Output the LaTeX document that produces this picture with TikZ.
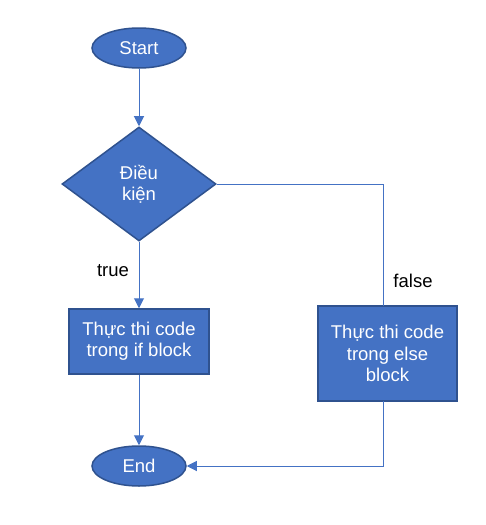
\documentclass[tikz,border=0pt]{standalone}
\usepackage{fontspec}
\setmainfont{Liberation Sans}
\usepackage{tikz}
\usetikzlibrary{shapes.geometric,arrows.meta}
\definecolor{boxfill}{HTML}{4472C4}
\definecolor{boxedge}{HTML}{2F528F}

\begin{document}
\begin{tikzpicture}[x=1pt,y=-1pt,
        font=\fontsize{18.5}{21.3}\selectfont,
        shapebox/.style={draw=boxedge,line width=1.5pt,fill=boxfill,text=white,align=center,inner sep=0pt},
        terminal/.style={shapebox,ellipse,minimum width=94pt,minimum height=40pt},
        process/.style={shapebox,rectangle},
        decision/.style={shapebox,diamond,minimum width=154pt,minimum height=114pt},
        link/.style={draw=boxfill,line width=1pt},
        arrowlink/.style={link,-{Triangle[width=10pt,length=10pt]}}]
        \useasboundingbox (0,0) rectangle (486,525);
        % Start and End
        \node[terminal] (start) at (139,48) {Start};
        \node[terminal] (end) at (139,466) {End};
        % condition
        \node[decision] (cond) at (139,184) {Điều\\kiện};
        % if and else blocks
        \node[process,minimum width=140pt,minimum height=65pt] (ifblock) at (139,341.5) {Thực thi code\\trong if block};
        \node[process,minimum width=139pt,minimum height=95pt] (elseblock) at (387.5,353.5) {Thực thi code\\trong else\\block};
        \coordinate (elsetop) at (383,306);
        \coordinate (elsebottom) at (383,401);

        \draw[arrowlink] (start) -- (cond);
        \draw[arrowlink] (cond) -- (ifblock);
        \draw[arrowlink] (ifblock) -- (end);
        \draw[link] (cond.east) -| (elsetop);
        \draw[arrowlink] (elsebottom) |- (end.east);
        % labels
        \node (truelabel) at (113,271) {true};
        \node (falselabel) at (413,281) {false};
    \end{tikzpicture}
\end{document}
